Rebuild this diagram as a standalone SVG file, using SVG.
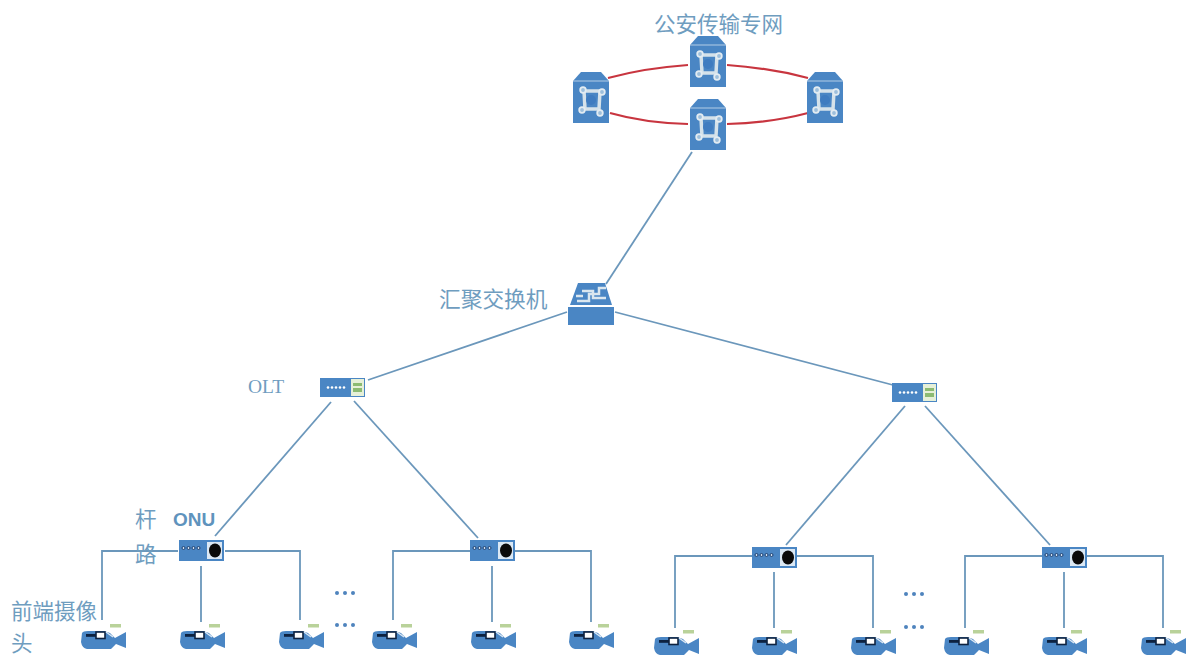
<svg xmlns="http://www.w3.org/2000/svg" width="1189" height="656" viewBox="0 0 1189 656">
<style>
.bg{fill:#fff}
.link{fill:none;stroke:#6b97bb;stroke-width:1.8}
.ring{fill:none;stroke:#c8353f;stroke-width:2.200}
.blue{fill:#4a86c4}
.lbl{font-family:"Noto Sans CJK SC","Liberation Serif",serif;fill:#6f9dbf;font-size:21.500px}
.big{font-size:21.700px}
.lat{font-family:"Liberation Serif",serif;fill:#6f9dbf;font-size:19.500px}
.onu{font-family:"Liberation Sans",sans-serif;font-weight:bold;fill:#5f93bd;font-size:19px}
.dots{fill:#4f84bd}
</style>
<defs>
<g id="router">
<path class="blue" d="M8 0H28L36 9V51H0V9Z"/>
<path d="M0 9H36" stroke="#cfe0f0" stroke-width=".8"/>
<path d="M11 19H27L26 37H12Z" fill="none" stroke="#d5e2ea" stroke-width="3.500"/>
<circle cx="18" cy="28" r="5" fill="#3f7cc0"/>
<g fill="#9dbfdc" stroke="#e3ecf2" stroke-width="1.800"><circle cx="10" cy="18" r="2.800"/><circle cx="29" cy="20" r="2.800"/><circle cx="9" cy="38" r="2.800"/><circle cx="27" cy="41" r="2.800"/></g>
</g>
<g id="olt">
<rect class="blue" width="45" height="19"/>
<rect x="31" y="1" width="13" height="17" fill="#e6f0d8"/>
<rect x="33" y="5" width="9" height="3" fill="#8cbb72"/><rect x="33" y="10" width="9" height="4" fill="#8cbb72"/>
<g fill="#fff"><circle cx="8" cy="9.500" r="1.300"/><circle cx="12" cy="9.500" r="1.300"/><circle cx="16" cy="9.500" r="1.300"/><circle cx="20" cy="9.500" r="1.300"/><circle cx="24" cy="9.500" r="1.300"/></g>
</g>
<g id="onu">
<rect class="blue" width="45" height="21"/>
<rect x="28" y="2" width="15" height="17" fill="#dbe8f4"/>
<ellipse cx="36" cy="10.500" rx="6" ry="7" fill="#0a0a0a"/>
<g fill="#cfe0f0" stroke="#1d3f70" stroke-width="1"><circle cx="4.500" cy="8" r="1.500"/><circle cx="9.500" cy="8" r="1.500"/><circle cx="14.500" cy="8" r="1.500"/><circle cx="19.500" cy="8" r="1.500"/></g>
</g>
<g id="cam">
<rect x="30" y="0" width="11" height="3.500" fill="#b9d29a"/>
<path class="blue" d="M2 9Q3 7 8 7H24L30 9L35 14L46 8V24L36 20L31 25H7Q2 24 1 18Z"/>
<rect x="6" y="10" width="10" height="2.800" fill="#0d2240"/>
<rect x="16" y="8" width="9" height="6.500" fill="#fff" stroke="#0d2240" stroke-width="1.600"/>
<path d="M26 8L33 13" stroke="#dbe8f4" stroke-width="1.500"/>
</g>
<g id="sw">
<path class="blue" d="M10 3H37L44 25H2Z"/>
<rect class="blue" y="27" width="46" height="18"/>
<path d="M9 21H21V14H31V8H38M14 11H25V18H38M8 16H15" fill="none" stroke="#dbe7ef" stroke-width="2.500"/>
</g>
</defs>
<rect class="bg" width="1189" height="656"/>
<g id="connectors">
<path class="ring" d="M608 78Q645 68 688 65"/>
<path class="ring" d="M727 65Q770 68 808 78"/>
<path class="ring" d="M610 113Q645 123 688 124"/>
<path class="ring" d="M727 124Q770 123 808 113"/>
<path class="link" d="M692 152L606 284"/>
<path class="link" d="M567 312L368 380"/>
<path class="link" d="M615 312L893 385"/>
<path class="link" d="M331 402L215 536"/>
<path class="link" d="M354 401L478 538"/>
<path class="link" d="M905 406L786 545"/>
<path class="link" d="M925 406L1050 545"/>
<path class="link" d="M178 551H102V620M225 551H300V620M201 566V622"/>
<path class="link" d="M470 551H393V620M515 551H591V622M492 566V622"/>
<path class="link" d="M752 556H675V628M797 556H873V628M774 572V628"/>
<path class="link" d="M1042 556H965V628M1087 556H1163V628M1064 572V628"/>
</g>
<g id="router-top"><use href="#router" x="690" y="36"/></g>
<g id="router-left"><use href="#router" x="573" y="72"/></g>
<g id="router-right"><use href="#router" x="807" y="72"/></g>
<g id="router-bottom"><use href="#router" x="690" y="99"/></g>
<g id="aggregation-switch"><use href="#sw" x="568" y="280"/></g>
<g id="olt-left"><use href="#olt" x="320" y="378"/></g>
<g id="olt-right"><use href="#olt" x="892" y="383"/></g>
<g id="onu-1"><use href="#onu" x="179" y="540"/></g>
<g id="onu-2"><use href="#onu" x="470" y="540"/></g>
<g id="onu-3"><use href="#onu" x="752" y="547"/></g>
<g id="onu-4"><use href="#onu" x="1042" y="547"/></g>
<g id="cam-1"><use href="#cam" x="80" y="624"/></g>
<g id="cam-2"><use href="#cam" x="179" y="624"/></g>
<g id="cam-3"><use href="#cam" x="278" y="624"/></g>
<g id="cam-4"><use href="#cam" x="371" y="624"/></g>
<g id="cam-5"><use href="#cam" x="470" y="624"/></g>
<g id="cam-6"><use href="#cam" x="568" y="624"/></g>
<g id="cam-7"><use href="#cam" x="653" y="630"/></g>
<g id="cam-8"><use href="#cam" x="751" y="630"/></g>
<g id="cam-9"><use href="#cam" x="850" y="630"/></g>
<g id="cam-10"><use href="#cam" x="943" y="630"/></g>
<g id="cam-11"><use href="#cam" x="1041" y="630"/></g>
<g id="cam-12"><use href="#cam" x="1140" y="630"/></g>
<g id="labels">
<text class="lbl" x="654" y="32">公安传输专网</text>
<text class="lbl big" x="439" y="307">汇聚交换机</text>
<text class="lat" x="248" y="393">OLT</text>
<text class="onu" x="173" y="526">ONU</text>
<text class="lbl" x="135" y="527">杆</text>
<text class="lbl" x="135" y="562">路</text>
<text class="lbl" x="11" y="619">前端摄像</text>
<text class="lbl" x="11" y="651">头</text>
</g>
<g id="ellipses" class="dots">
<circle cx="337" cy="593" r="2"/><circle cx="345" cy="593" r="2"/><circle cx="353" cy="593" r="2"/>
<circle cx="337" cy="625" r="2"/><circle cx="345" cy="625" r="2"/><circle cx="353" cy="625" r="2"/>
<circle cx="906" cy="594" r="2"/><circle cx="914" cy="594" r="2"/><circle cx="922" cy="594" r="2"/>
<circle cx="906" cy="627" r="2"/><circle cx="914" cy="627" r="2"/><circle cx="922" cy="627" r="2"/>
</g>
</svg>
